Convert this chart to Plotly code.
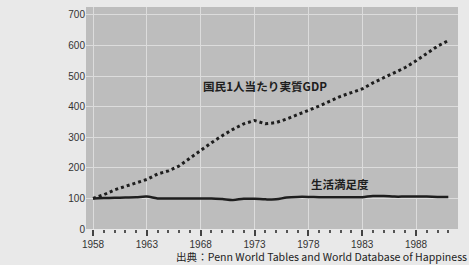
import plotly.graph_objects as go

years = list(range(1958, 1992))
gdp = [100, 112, 128, 140, 150, 162, 180, 190, 206, 232, 258, 282, 305, 326, 344, 355,
       344, 348, 360, 373, 388, 402, 418, 434, 446, 458, 478, 494, 510, 528, 550, 575, 598, 616]
life = [100, 101, 102, 103, 104, 106, 100, 100, 100, 100, 100, 100, 98, 95, 99, 99,
        97, 97, 103, 105, 105, 104, 104, 104, 104, 104, 108, 108, 106, 106, 106, 106, 105, 105]
x_ticks = [1958, 1963, 1968, 1973, 1978, 1983, 1988]
y_ticks = [0, 100, 200, 300, 400, 500, 600, 700]
gdp_label = "国民1人当たり実質GDP"
life_label = "生活満足度"
source = "出典：Penn World Tables and World Database of Happiness"

fig = go.Figure()
fig.add_trace(go.Scatter(x=years, y=gdp, mode="lines", name=gdp_label,
                         line=dict(color="#1e1e1e", width=3, dash="3px,3px")))
fig.add_trace(go.Scatter(x=years, y=life, mode="lines", name=life_label,
                         line=dict(color="#1e1e1e", width=2.5), line_shape="spline"))

fig.add_annotation(x=1974.0, y=468, text=f"<b>{gdp_label}</b>", showarrow=False,
                   font=dict(family="Noto Sans CJK JP", size=11.6, color="#1e1e1e"))
fig.add_annotation(x=1980.9, y=146, text=f"<b>{life_label}</b>", showarrow=False,
                   font=dict(family="Noto Sans CJK JP", size=11.5, color="#1e1e1e"))
fig.add_annotation(xref="paper", yref="paper", x=1.029, y=-0.125, xanchor="right", yanchor="middle",
                   text=source, showarrow=False,
                   font=dict(family="Noto Sans CJK JP, Liberation Sans", size=10.6, color="#222"))

fig.update_layout(
    width=469, height=265,
    margin=dict(l=86, r=11, t=7, b=36, autoexpand=False),
    paper_bgcolor="#e9e9e9", plot_bgcolor="#bdbdbd",
    showlegend=False,
    font=dict(family="Liberation Sans, Arial", size=10, color="#333"),
    xaxis=dict(range=[1957.35, 1991.9], tickvals=x_ticks, ticktext=[str(v) for v in x_ticks],
               showgrid=True, gridcolor="#dcdcdc", gridwidth=1.2, zeroline=False,
               ticks="outside", ticklen=6, tickwidth=1.5, tickcolor="#444",
               minor=dict(ticks="outside", dtick=1, tick0=1958, ticklen=3, tickwidth=1.5,
                          tickcolor="#555", showgrid=False),
               tickfont=dict(size=10, color="#333"), automargin=False),
    yaxis=dict(range=[0, 726], tickvals=y_ticks, showgrid=True, gridcolor="#dcdcdc", gridwidth=1.2,
               zeroline=False, ticks="", tickfont=dict(size=10, color="#333"), automargin=False),
)

fig.write_html("out.html", config={"displayModeBar": False},
               post_script="document.body.style.margin='0';document.body.style.overflow='hidden';"
                           "document.body.style.background='#e9e9e9';")
